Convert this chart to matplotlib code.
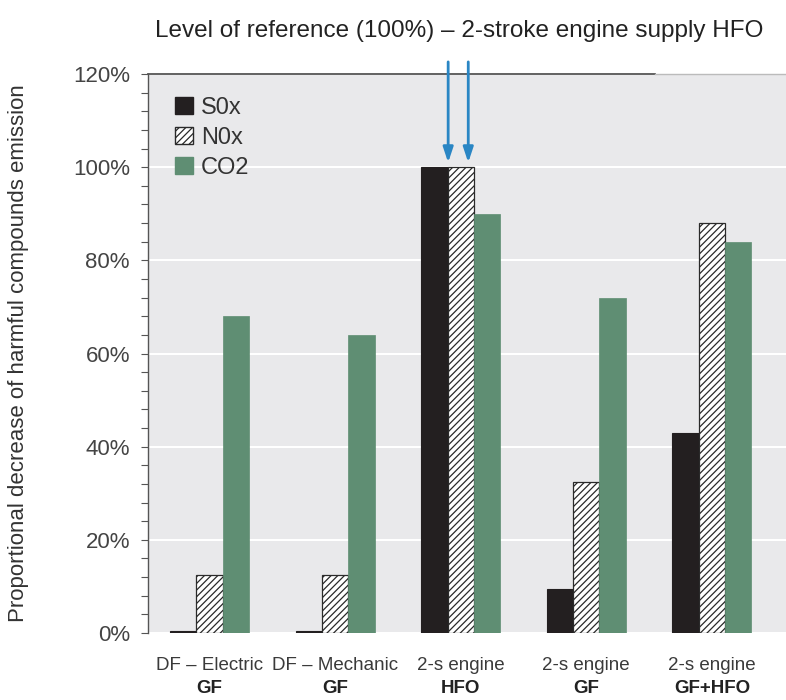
import matplotlib
matplotlib.use("Agg")
import matplotlib.pyplot as plt
import matplotlib.transforms as mtransforms
from matplotlib.patches import Patch
import numpy as np

plt.rcParams['font.family'] = ['Liberation Sans', 'DejaVu Sans']
plt.rcParams['hatch.linewidth'] = 0.9

# ---- data ----
categories_line1 = ["DF \u2013 Electric", "DF \u2013 Mechanic", "2-s engine", "2-s engine", "2-s engine"]
categories_line2 = ["GF", "GF", "HFO", "GF", "GF+HFO"]
series_names = ["S0x", "N0x", "CO2"]
sox = [0.5, 0.5, 100, 9.5, 43]
nox = [12.5, 12.5, 100, 32.5, 88]
co2 = [68, 64, 90, 72, 84]
yticks = [0, 20, 40, 60, 80, 100, 120]
ytick_labels = ["0%", "20%", "40%", "60%", "80%", "100%", "120%"]
title = "Level of reference (100%) \u2013 2-stroke engine supply HFO"
ylabel = "Proportional decrease of harmful compounds emission"

# ---- styles ----
c_sox = "#231f20"
c_co2 = "#5f8e73"
bg = "#e9e9eb"
txt = "#3a3a3a"

fig = plt.figure(figsize=(7.86, 7.0), dpi=100)
ax = fig.add_axes([148/786, 67/700, 638/786, 559/700])
ax.set_facecolor(bg)

x = np.arange(len(categories_line1))
w = 0.21
ax.bar(x - w, sox, w, color=c_sox, edgecolor=c_sox, linewidth=0.8, zorder=3, label=series_names[0])
ax.bar(x, nox, w, color="white", edgecolor="#2a2a2a", hatch="/////", linewidth=0.9, zorder=3, label=series_names[1])
ax.bar(x + w, co2, w, color=c_co2, edgecolor=c_co2, linewidth=0.5, zorder=3, label=series_names[2])

ax.set_xlim(-0.49, 4.59)
ax.set_ylim(0, 120)
ax.set_yticks(yticks)
ax.set_yticklabels(ytick_labels, fontsize=16, color="#444444")
ax.set_yticks(np.arange(0, 121, 4), minor=True)
ax.tick_params(axis='y', which='both', direction='out', length=5, width=0.8, color="#555555", pad=8)
ax.set_xticks([])
ax.grid(axis='y', color='white', linewidth=1.5, zorder=1)
ax.set_axisbelow(True)

for s in ["top", "right", "bottom"]:
    ax.spines[s].set_visible(False)
ax.spines["left"].set_color("#555555")
ax.spines["left"].set_linewidth(1.0)

# top border: dark then light
ax.plot([0, 0.795], [1, 1], transform=ax.transAxes, color="#555555", lw=1.3, clip_on=False, zorder=5)
ax.plot([0.795, 1], [1, 1], transform=ax.transAxes, color="#bbbbbb", lw=1.0, clip_on=False, zorder=5)

# x category labels (two lines)
trans = mtransforms.blended_transform_factory(ax.transData, ax.transAxes)
for i in range(len(categories_line1)):
    ax.text(x[i], -0.058, categories_line1[i], transform=trans, ha='center', va='center',
            fontsize=13.5, color=txt)
    ax.text(x[i], -0.100, categories_line2[i], transform=trans, ha='center', va='center',
            fontsize=13.5, color="#222222", fontweight='bold')

# arrows pointing to reference bars
ref = 2
for dx in (-0.1, 0.06):
    ax.annotate("", xy=(ref + dx, 101), xytext=(ref + dx, 122.6), xycoords='data',
                textcoords='data', annotation_clip=False,
                arrowprops=dict(arrowstyle="-|>,head_length=0.9,head_width=0.3",
                                color="#2a86c4", lw=2.0, shrinkA=0, shrinkB=0), zorder=6)

# legend
handles = [Patch(facecolor=c_sox, edgecolor=c_sox),
           Patch(facecolor="white", edgecolor="#2a2a2a", hatch="/////"),
           Patch(facecolor=c_co2, edgecolor=c_co2)]
leg = ax.legend(handles, series_names, loc='upper left', bbox_to_anchor=(0.02, 0.985),
                frameon=False, fontsize=17, handlelength=0.75, handleheight=0.75,
                handletextpad=0.35, labelspacing=0.35, borderaxespad=0.2)
for t in leg.get_texts():
    t.set_color("#333333")

fig.text(459/786, 1 - 31/700, title, ha='center', va='center', fontsize=17.5, color="#222222")
fig.text(19/786, 0.495, ylabel, rotation=90, ha='center', va='center', fontsize=16, color="#333333")

fig.savefig("out.png", dpi=100)
